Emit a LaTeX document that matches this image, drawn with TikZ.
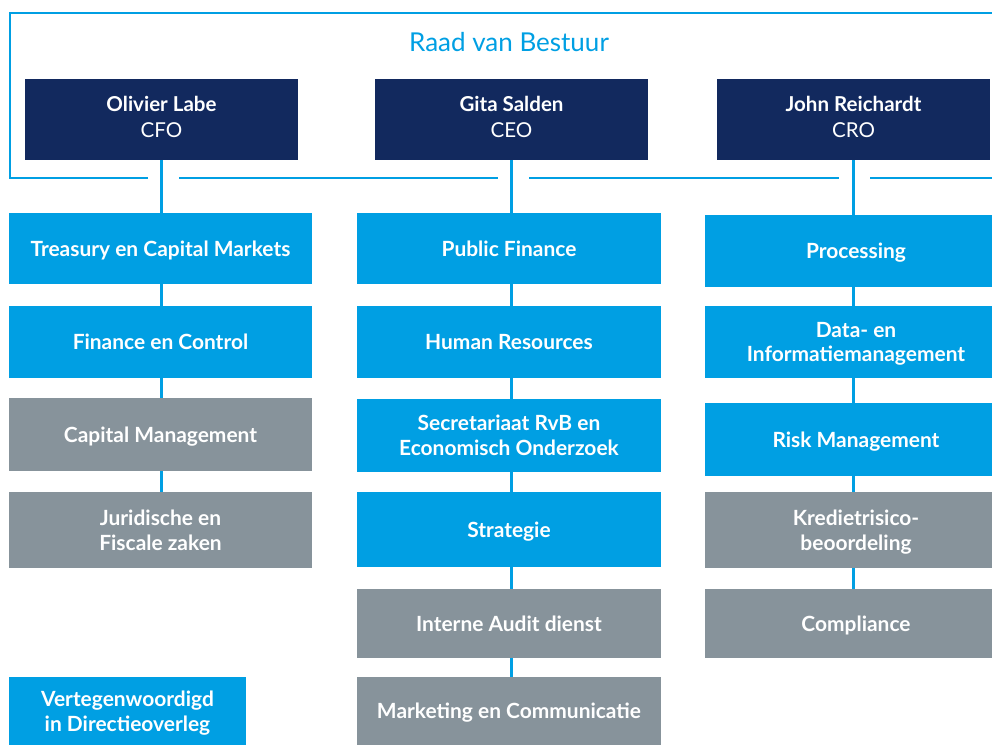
\documentclass[tikz,border=0pt]{standalone}
\usepackage{fontspec}
\setmainfont{Lato}
\usepackage{tikz}
\usetikzlibrary{positioning, calc}

\definecolor{rvbblue}{RGB}{0,159,227}
\definecolor{rvbnavy}{RGB}{18,41,94}
\definecolor{rvbgray}{RGB}{135,147,155}

\tikzset{
  box/.style={inner sep=0pt, align=center, text=white, text depth=0pt,
    font=\fontsize{15.7}{18.5}\selectfont\bfseries},
  board/.style={box, fill=rvbnavy, minimum width=204.75pt, minimum height=60.75pt,
    text depth=4pt, font=\fontsize{15.4}{19}\selectfont\bfseries},
  dept/.style={box, fill=rvbblue},
  staff/.style={box, fill=rvbgray},
  colL/.style={minimum width=227.25pt},
  colM/.style={minimum width=228pt},
  colR/.style={minimum width=226.5pt},
  link/.style={rvbblue, line width=2pt}
}

\begin{document}
\begin{tikzpicture}[x=0.75pt, y=-0.75pt]
  \useasboundingbox (0,0) rectangle (992,745);

  % Raad van Bestuur frame
  \draw[link] (148,178) -- (10,178) -- (10,13) -- (992,13);
  \draw[link] (179,178) -- (498,178);
  \draw[link] (529,178) -- (839,178);
  \draw[link] (870,178) -- (992,178);
  \node[text=rvbblue, font=\fontsize{19.5}{22}\selectfont] (title) at (509,42) {Raad van Bestuur};

  % Board members
  \node[board] (cfo) at (161.5,119.5) {Olivier Labe\\{\mdseries CFO}};
  \node[board] (ceo) at (511.5,119.5) {Gita Salden\\{\mdseries CEO}};
  \node[board] (cro) at (853.5,119.5) {John Reichardt\\{\mdseries CRO}};

  % CFO column
  \node[dept, colL, minimum height=53.25pt] (treasury) at (160.5,248.5) {Treasury en Capital Markets};
  \node[dept, colL, minimum height=54pt] (finance) at (160.5,342) {Finance en Control};
  \node[staff, colL, minimum height=54.75pt] (capital) at (160.5,434.5) {Capital Management};
  \node[staff, colL, minimum height=57pt] (juridisch) at (160.5,530) {Juridische en\\Fiscale zaken};

  % CEO column
  \node[dept, colM, minimum height=53.25pt] (publicfin) at (509,248.5) {Public Finance};
  \node[dept, colM, minimum height=54pt] (hr) at (509,342) {Human Resources};
  \node[dept, colM, minimum height=54.75pt] (secr) at (509,435.5) {Secretariaat RvB en\\Economisch Onderzoek};
  \node[dept, colM, minimum height=56.25pt] (strategie) at (509,529.5) {Strategie};
  \node[staff, colM, minimum height=51.75pt] (audit) at (509,623.5) {Interne Audit dienst};
  \node[staff, colM, minimum height=51pt] (marketing) at (509,711) {Marketing en Communicatie};

  % CRO column (runs past the right edge)
  \node[dept, colR, minimum height=54pt] (processing) at (856,251) {Processing};
  \node[dept, colR, minimum height=54pt] (datainfo) at (856,342) {Data- en\\Informatiemanagement};
  \node[dept, colR, minimum height=54.75pt] (risk) at (856,439.5) {Risk Management};
  \node[staff, colR, minimum height=57pt] (krediet) at (856,530) {Kredietrisico-\\beoordeling};
  \node[staff, colR, minimum height=51.75pt] (compliance) at (856,623.5) {Compliance};

  % Legend
  \node[dept, minimum width=177.75pt, minimum height=51pt] (legend) at (127.5,711) {Vertegenwoordigd\\in Directieoverleg};

  % Connectors
  \foreach \top/\first in {cfo/treasury, ceo/publicfin, cro/processing}
    \draw[link] (\top.south) -- (\top.south |- \first.north);
  \foreach \a/\b in {treasury/finance, finance/capital, capital/juridisch}
    \draw[link] (\a.south -| cfo) -- (\b.north -| cfo);
  \foreach \a/\b in {publicfin/hr, hr/secr, secr/strategie, strategie/audit, audit/marketing}
    \draw[link] (\a.south -| ceo) -- (\b.north -| ceo);
  \foreach \a/\b in {processing/datainfo, datainfo/risk, risk/krediet, krediet/compliance}
    \draw[link] (\a.south -| cro) -- (\b.north -| cro);
\end{tikzpicture}
\end{document}
